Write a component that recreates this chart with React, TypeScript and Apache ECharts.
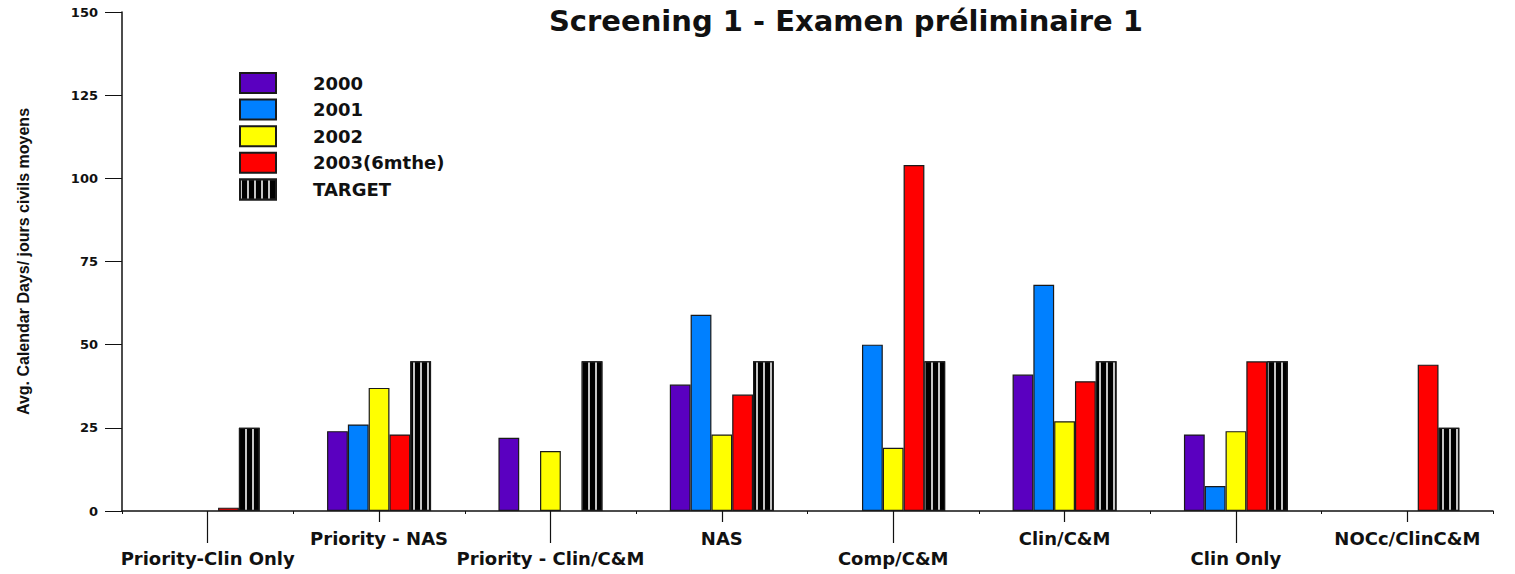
import React, { useEffect, useRef } from "react";
import * as echarts from "echarts";

const categories = [
  "Priority-Clin Only",
  "Priority - NAS",
  "Priority - Clin/C&M",
  "NAS",
  "Comp/C&M",
  "Clin/C&M",
  "Clin Only",
  "NOCc/ClinC&M",
];
const s2000 = [null, 24, 22, 38, null, 41, 23, null];
const s2001 = [null, 26, null, 59, 50, 68, 7.5, null];
const s2002 = [null, 37, 18, 23, 19, 27, 24, null];
const s2003 = [1, 23, null, 35, 104, 39, 45, 44];
const target = [25, 45, 45, 45, 45, 45, 45, 25];

const seriesNames = ["2000", "2001", "2002", "2003(6mthe)", "TARGET"];
const seriesColors = ["#5a00c0", "#0080ff", "#ffff00", "#ff0000", "#000000"];
const yTicks = { min: 0, max: 150, interval: 25 };

const WIDE = "'DejaVu Sans', Verdana, sans-serif";

export default function App() {
  const ref = useRef<HTMLDivElement>(null);
  useEffect(() => {
    if (!ref.current) return;
    const chart = echarts.init(ref.current, undefined, { renderer: "svg" });
    const data = [s2000, s2001, s2002, s2003, target];
    const series = data.map((d, i) => ({
      name: seriesNames[i],
      type: "bar",
      data: d,
      barWidth: 20.8,
      barGap: "0%",
      itemStyle: {
        color: seriesColors[i],
        borderColor: "#1a1a1a",
        borderWidth: 1.2,
        decal:
          i === 4
            ? {
                symbol: "rect",
                symbolSize: 1,
                color: "#c4c4c4",
                dashArrayX: [1.5, 4.5],
                dashArrayY: [10, 0],
                rotation: 0,
              }
            : undefined,
      },
    }));
    const baseX = {
      type: "category",
      data: categories,
      position: "bottom",
      offset: 0,
    };
    chart.setOption({
      animation: false,
      title: {
        text: "Screening 1 - Examen préliminaire 1",
        left: 846,
        top: 6,
        padding: 0,
        textAlign: "center",
        textStyle: {
          fontFamily: WIDE,
          fontWeight: "bold",
          fontSize: 29,
          color: "#111",
        },
      },
      legend: {
        orient: "vertical",
        left: 239,
        top: 72,
        padding: 0,
        itemWidth: 36,
        itemHeight: 20,
        itemGap: 4.6,
        icon: "rect",
        selectedMode: false,
        data: seriesNames,
        textStyle: {
          fontFamily: WIDE,
          fontWeight: "bold",
          fontSize: 18,
          lineHeight: 20,
          color: "#111",
          padding: [0, 0, 0, 32],
        },
      },
      grid: { left: 122, right: 22, top: 12, bottom: 63 },
      xAxis: [
        {
          ...baseX,
          axisLine: { lineStyle: { color: "#111", width: 1.5 } },
          axisTick: { show: true, length: 3, lineStyle: { color: "#111" } },
          axisLabel: {
            interval: 0,
            margin: 17,
            lineHeight: 20,
            fontFamily: WIDE,
            fontWeight: "bold",
            fontSize: 18,
            color: "#111",
            formatter: (v: string, i: number) => (i % 2 === 0 ? "\n" + v : v),
          },
        },
        {
          ...baseX,
          axisLine: { show: false },
          axisLabel: { show: false },
          axisTick: {
            show: true,
            alignWithLabel: true,
            length: 11,
            interval: (i: number) => i % 2 === 1,
            lineStyle: { color: "#111", width: 1.2 },
          },
        },
        {
          ...baseX,
          axisLine: { show: false },
          axisLabel: { show: false },
          axisTick: {
            show: true,
            alignWithLabel: true,
            length: 32,
            interval: (i: number) => i % 2 === 0,
            lineStyle: { color: "#111", width: 1.2 },
          },
        },
      ],
      yAxis: {
        type: "value",
        min: yTicks.min,
        max: yTicks.max,
        interval: yTicks.interval,
        name: "Avg. Calendar Days/ jours civils moyens",
        nameLocation: "middle",
        nameGap: 91,
        nameTextStyle: {
          fontFamily: "'Liberation Sans', Arial, sans-serif",
          fontWeight: "bold",
          fontSize: 16,
          color: "#111",
        },
        splitLine: { show: false },
        axisLine: { show: true, lineStyle: { color: "#111", width: 1.5 } },
        axisTick: { show: true, length: 17, lineStyle: { color: "#111" } },
        axisLabel: {
          margin: 24,
          fontFamily: WIDE,
          fontWeight: "bold",
          fontSize: 13,
          color: "#111",
        },
      },
      series,
    });
    return () => chart.dispose();
  }, []);
  return (
    <div
      ref={ref}
      style={{ position: "fixed", left: 0, top: 0, width: 1515, height: 574, background: "#fff" }}
    />
  );
}
